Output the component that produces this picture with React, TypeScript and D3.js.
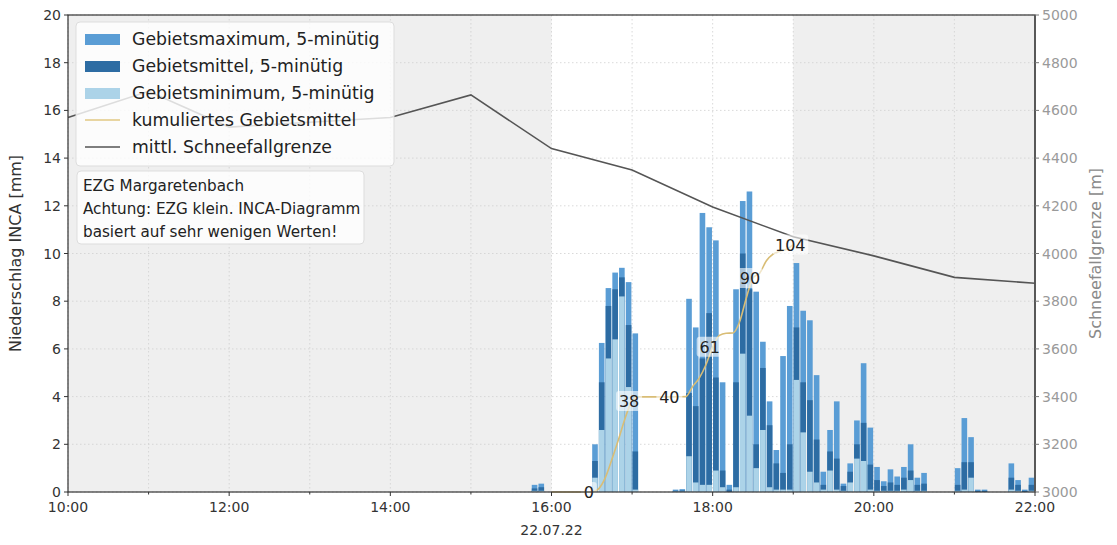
import React from "react";
import * as d3 from "d3";

const DAY = "2022-07-22";

// 5-minute precipitation per catchment [mm]; each bar covers [t, t + 5 min)
const BAR_TIMES = [
  "15:45", "15:50",
  "16:30", "16:35", "16:40", "16:45", "16:50", "16:55", "17:00",
  "17:30", "17:35", "17:40", "17:45", "17:50", "17:55",
  "18:00", "18:05", "18:10", "18:15", "18:20", "18:25",
  "18:30", "18:35", "18:40", "18:45", "18:50", "18:55",
  "19:00", "19:05", "19:10", "19:15", "19:20", "19:25",
  "19:30", "19:35", "19:40", "19:45", "19:50", "19:55",
  "20:00", "20:05", "20:10", "20:15", "20:20", "20:25", "20:30", "20:35",
  "21:00", "21:05", "21:10", "21:15", "21:20",
  "21:40", "21:45", "21:50", "21:55",
];
const BAR_MAX = [
  0.3, 0.35,
  2.0, 6.25, 8.55, 9.2, 9.4, 8.8, 6.65,
  0.1, 0.12, 8.1, 6.9, 11.7, 11.1,
  10.55, 4.6, 0.3, 8.5, 12.2, 12.6,
  8.4, 6.3, 3.8, 1.76, 5.7, 7.8,
  9.6, 7.6, 7.2, 4.9, 0.85, 2.6,
  3.8, 0.35, 1.2, 3.0, 5.4, 2.7,
  1.05, 0.45, 0.95, 0.65, 1.05, 2.0, 0.6, 0.8,
  1.0, 3.1, 2.3, 0.1, 0.1,
  1.2, 0.5, 0.1, 0.6,
];
const BAR_MEAN = [
  0.15, 0.2,
  1.3, 4.6, 7.8, 8.5, 9.0, 7.0, 1.7,
  0.05, 0.06, 4.15, 3.6, 5.6, 7.5,
  4.8, 0.9, 0.1, 4.6, 10.0, 8.5,
  2.0, 5.2, 2.8, 1.2, 0.8, 2.0,
  6.9, 4.6, 3.85, 2.2, 0.3, 1.7,
  1.4, 0.25, 0.85, 2.0, 2.9, 1.15,
  0.5, 0.25, 0.4, 0.3, 0.6, 0.9, 0.3, 0.35,
  0.3, 1.25, 1.25, 0.05, 0.05,
  0.6, 0.3, 0.05, 0.3,
];
const BAR_MIN = [
  0.05, 0.05,
  0.6, 2.6, 5.6, 6.4, 8.2, 4.4, 0.1,
  0.02, 0.02, 1.5, 0.4, 0.3, 0.3,
  0.9, 0.2, 0.0, 0.2, 5.8, 3.2,
  1.0, 2.6, 0.2, 0.1, 0.1, 0.1,
  4.7, 2.5, 0.85, 0.4, 0.1, 0.9,
  0.1, 0.05, 0.4, 1.4, 1.3, 0.1,
  0.05, 0.05, 0.05, 0.05, 0.1, 0.5, 0.05, 0.05,
  0.05, 0.1, 0.6, 0.0, 0.0,
  0.1, 0.05, 0.0, 0.05,
];

// mean snowfall limit [m], hourly
const SNOW_TIMES = [
  "10:00", "11:00", "12:00", "13:00", "14:00", "15:00", "16:00",
  "17:00", "18:00", "19:00", "20:00", "21:00", "22:00",
];
const SNOW_LEVEL = [4570, 4680, 4530, 4550, 4570, 4665, 4440, 4350, 4195, 4070, 3990, 3900, 3875];

// accumulation window and labelled instants of the cumulative catchment mean
const CUM_START = "16:00";
const CUM_END = "19:00";
const CUM_LABEL_TIMES = ["16:30", "17:00", "17:30", "18:00", "18:30", "19:00"];

const LEFT_TICKS = [0, 2, 4, 6, 8, 10, 12, 14, 16, 18, 20];
const RIGHT_TICKS = [3000, 3200, 3400, 3600, 3800, 4000, 4200, 4400, 4600, 4800, 5000];
const X_MAJOR = ["10:00", "12:00", "14:00", "16:00", "18:00", "20:00", "22:00"];
const X_MINOR = ["11:00", "13:00", "15:00", "17:00", "19:00", "21:00"];
const DATE_LABEL = "22.07.22";
const DATE_UNDER = "16:00";

const LEGEND_ITEMS = [
  { kind: "patch", color: "#5a9dd5", label: "Gebietsmaximum, 5-minütig" },
  { kind: "patch", color: "#2d6ca3", label: "Gebietsmittel, 5-minütig" },
  { kind: "patch", color: "#acd3e8", label: "Gebietsminimum, 5-minütig" },
  { kind: "line", color: "#e2c883", label: "kumuliertes Gebietsmittel" },
  { kind: "line", color: "#555555", label: "mittl. Schneefallgrenze" },
];
const NOTE_LINES = [
  "EZG Margaretenbach",
  "Achtung: EZG klein. INCA-Diagramm",
  "basiert auf sehr wenigen Werten!",
];

const FONT = "DejaVu Sans";
const FIVE_MIN = 5 * 60 * 1000;
const parse = (hm: string) => new Date(`${DAY}T${hm}:00`);

export default function App() {
  const W = 1117, H = 545;
  const L = 68, R = 1035, T = 15, B = 492;

  const x = d3.scaleTime().domain([parse("10:00"), parse("22:00")]).range([L, R]);
  const y = d3.scaleLinear().domain([0, 20]).range([B, T]);
  const y2 = d3.scaleLinear().domain([3000, 5000]).range([B, T]);

  // running sum of the 5-minute catchment mean inside the window
  const cum: { t: Date; v: number }[] = [];
  let acc = 0;
  for (let tt = +parse(CUM_START); tt <= +parse(CUM_END); tt += FIVE_MIN) {
    cum.push({ t: new Date(tt), v: acc });
    const idx = BAR_TIMES.findIndex((s) => +parse(s) === tt);
    if (idx >= 0) acc += BAR_MEAN[idx];
  }
  const cumLine = d3
    .line<{ t: Date; v: number }>()
    .x((d) => x(d.t))
    .y((d) => y(d.v / 10))
    .curve(d3.curveMonotoneX);

  const snow = SNOW_TIMES.map((s, i) => ({ t: parse(s), v: SNOW_LEVEL[i] }));
  const snowLine = d3
    .line<{ t: Date; v: number }>()
    .x((d) => x(d.t))
    .y((d) => y2(d.v));

  const bars = BAR_TIMES.map((s, i) => {
    const t0 = parse(s);
    const x0 = x(t0);
    const x1 = x(new Date(+t0 + FIVE_MIN));
    return { x: x0 + 0.4, w: x1 - x0 - 1.1, max: BAR_MAX[i], mean: BAR_MEAN[i], min: BAR_MIN[i] };
  });

  const shade = [
    [parse("10:00"), parse(CUM_START)],
    [parse(CUM_END), parse("22:00")],
  ];
  const hourGrid = [...X_MAJOR, ...X_MINOR].map(parse);

  return (
    <svg
      width={W}
      height={H}
      style={{ position: "absolute", left: 0, top: 0, background: "#ffffff" }}
      fontFamily={FONT}
    >
      {/* shaded periods outside the accumulation window */}
      {shade.map(([a, b], i) => (
        <rect key={i} x={x(a)} y={T} width={x(b) - x(a)} height={B - T} fill="#efefef" />
      ))}

      {/* grid */}
      {LEFT_TICKS.map((v) => (
        <line key={"gy" + v} x1={L} x2={R} y1={y(v)} y2={y(v)} stroke="#cfcfcf" strokeWidth={0.8} strokeDasharray="1.5,2.5" />
      ))}
      {hourGrid.map((d, i) => (
        <line key={"gx" + i} x1={x(d)} x2={x(d)} y1={T} y2={B} stroke="#cfcfcf" strokeWidth={0.8} strokeDasharray="1.5,2.5" />
      ))}

      {/* bars: maximum, then mean, then minimum on top */}
      {bars.map((b, i) => (
        <g key={"b" + i}>
          <rect x={b.x} y={y(b.max)} width={b.w} height={B - y(b.max)} fill="#5a9dd5" />
          <rect x={b.x} y={y(b.mean)} width={b.w} height={B - y(b.mean)} fill="#2d6ca3" />
          <rect x={b.x} y={y(b.min)} width={b.w} height={B - y(b.min)} fill="#acd3e8" />
        </g>
      ))}

      {/* snowfall limit */}
      <path d={snowLine(snow) ?? ""} fill="none" stroke="#555555" strokeWidth={1.6} />

      {/* cumulative catchment mean */}
      <path d={cumLine(cum) ?? ""} fill="none" stroke="#d9bd75" strokeWidth={1.6} />
      {CUM_LABEL_TIMES.map((s) => {
        const p = cum.find((c) => +c.t === +parse(s));
        if (!p) return null;
        const label = String(Math.round(p.v));
        const cx = x(p.t) - 3;
        const cy = y(p.v / 10);
        const bw = label.length * 10 + 6;
        return (
          <g key={"cl" + s}>
            <rect x={cx - bw / 2} y={cy - 10} width={bw} height={20} rx={3} fill="#ffffff" fillOpacity={0.6} />
            <text x={cx} y={cy + 6} textAnchor="middle" fontSize={16} fill="#222">
              {label}
            </text>
          </g>
        );
      })}

      {/* spines */}
      <rect x={L} y={T} width={R - L} height={B - T} fill="none" stroke="#333" strokeWidth={1.2} />
      <line x1={R} x2={R} y1={T} y2={B} stroke="#555" strokeWidth={1.8} />

      {/* left axis */}
      {LEFT_TICKS.map((v) => (
        <g key={"ly" + v}>
          <line x1={L - 4} x2={L} y1={y(v)} y2={y(v)} stroke="#333" />
          <text x={L - 7} y={y(v) + 5} textAnchor="end" fontSize={14} fill="#333">
            {v}
          </text>
        </g>
      ))}
      <text
        transform={`translate(21,${(T + B) / 2}) rotate(-90)`}
        textAnchor="middle"
        fontSize={16}
        fill="#333"
      >
        Niederschlag INCA [mm]
      </text>

      {/* right axis */}
      {RIGHT_TICKS.map((v) => (
        <g key={"ry" + v}>
          <line x1={R} x2={R + 4} y1={y2(v)} y2={y2(v)} stroke="#777" />
          <text x={R + 7} y={y2(v) + 5} textAnchor="start" fontSize={14} fill="#9a9a9a">
            {v}
          </text>
        </g>
      ))}
      <text
        transform={`translate(1101,${(T + B) / 2}) rotate(-90)`}
        textAnchor="middle"
        fontSize={16}
        fill="#8a8a8a"
      >
        Schneefallgrenze [m]
      </text>

      {/* bottom axis */}
      {X_MAJOR.map((s) => (
        <g key={"xm" + s}>
          <line x1={x(parse(s))} x2={x(parse(s))} y1={B} y2={B + 4} stroke="#333" />
          <text x={x(parse(s))} y={B + 20} textAnchor="middle" fontSize={14} fill="#333">
            {s}
          </text>
        </g>
      ))}
      {X_MINOR.map((s) => (
        <line key={"xn" + s} x1={x(parse(s))} x2={x(parse(s))} y1={B} y2={B + 2.5} stroke="#333" />
      ))}
      <text x={x(parse(DATE_UNDER))} y={B + 43} textAnchor="middle" fontSize={14} fill="#333">
        {DATE_LABEL}
      </text>

      {/* legend */}
      <rect x={76} y={22} width={318} height={144} rx={4} fill="#ffffff" fillOpacity={0.8} stroke="#dddddd" />
      {LEGEND_ITEMS.map((it, i) => {
        const cy = 39 + i * 27;
        return (
          <g key={"lg" + i}>
            {it.kind === "patch" ? (
              <rect x={85} y={cy - 5} width={35} height={11} fill={it.color} />
            ) : (
              <line x1={85} x2={120} y1={cy} y2={cy} stroke={it.color} strokeWidth={1.6} />
            )}
            <text x={132} y={cy + 6} fontSize={17.3} fill="#222">
              {it.label}
            </text>
          </g>
        );
      })}

      {/* note box */}
      <rect x={77} y={171} width={287} height={73} rx={4} fill="#ffffff" fillOpacity={0.8} stroke="#dddddd" />
      {NOTE_LINES.map((s, i) => (
        <text key={"n" + i} x={83} y={191 + i * 23} fontSize={15.2} fill="#222">
          {s}
        </text>
      ))}
    </svg>
  );
}
